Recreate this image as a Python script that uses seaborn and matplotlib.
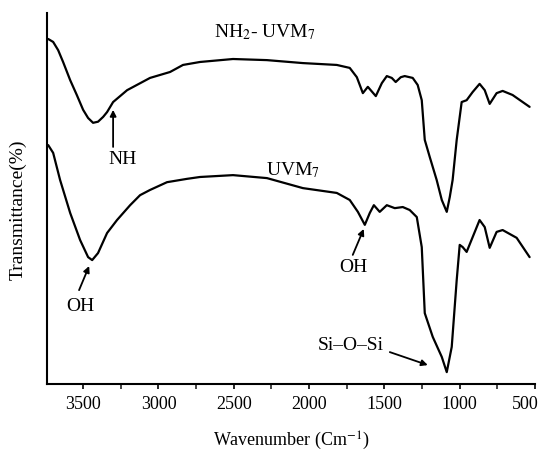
import matplotlib
matplotlib.use("Agg")
import matplotlib.pyplot as plt
import matplotlib.transforms as mtransforms
import seaborn as sns
import pandas as pd
from matplotlib.ticker import MultipleLocator

# ---- data ----
wn_nh2 = [3732, 3699, 3666, 3633, 3586, 3542, 3500, 3467, 3434, 3401, 3367, 3341,
          3301, 3208, 3056, 2923, 2837, 2724, 2505, 2280, 2041, 1816, 1730, 1683,
          1643, 1610, 1557, 1517, 1484, 1451, 1425, 1391, 1365, 1312, 1279, 1252,
          1232, 1199, 1153, 1119, 1086, 1066, 1047, 1020, 987, 954, 914, 868, 834,
          801, 755, 715, 649, 582, 536]
t_nh2 = [93.0, 92.2, 90.0, 86.8, 81.9, 77.9, 73.9, 71.7, 70.4, 70.7, 72.0, 73.3,
         76.0, 79.2, 82.5, 84.1, 86.0, 86.8, 87.6, 87.3, 86.5, 86.0, 85.2, 82.7,
         78.4, 80.1, 77.6, 81.1, 83.0, 82.5, 81.4, 82.7, 83.0, 82.5, 80.6, 76.5,
         65.8, 61.2, 55.0, 49.6, 46.4, 50.4, 55.0, 65.8, 76.0, 76.5, 78.7, 80.9,
         79.2, 75.5, 78.4, 79.0, 77.9, 76.0, 74.7]

wn_uvm = [3732, 3699, 3653, 3586, 3520, 3467, 3440, 3401, 3341, 3275, 3188, 3122,
          3056, 2943, 2810, 2724, 2505, 2280, 2041, 1816, 1730, 1676, 1630, 1597,
          1570, 1531, 1484, 1431, 1378, 1332, 1285, 1252, 1232, 1179, 1119, 1086,
          1053, 1020, 1000, 980, 954, 914, 868, 834, 801, 755, 715, 622, 536]
t_uvm = [64.4, 62.3, 55.0, 46.1, 38.8, 34.2, 33.4, 35.3, 40.7, 44.2, 48.2, 50.9,
         52.3, 54.4, 55.3, 55.8, 56.3, 55.5, 52.8, 51.5, 49.6, 46.4, 42.9, 46.1,
         48.2, 46.4, 48.2, 47.4, 47.7, 46.9, 45.0, 36.9, 19.1, 12.7, 7.3, 3.2,
         10.0, 28.0, 37.5, 36.9, 35.6, 39.6, 44.2, 42.3, 36.7, 41.0, 41.5, 39.4,
         34.2]

xtick_values = [3500, 3000, 2500, 2000, 1500, 1000, 500]
xtick_labels = ["3500", "3000", "2500", "2000", "1500", "1000", "500"]

df_nh2 = pd.DataFrame({"wn": wn_nh2, "t": t_nh2})
df_uvm = pd.DataFrame({"wn": wn_uvm, "t": t_uvm})

# ---- style ----
sns.set_theme(style="ticks")
plt.rcParams["font.family"] = ["Liberation Serif", "DejaVu Serif"]
plt.rcParams["mathtext.fontset"] = "stix"

fig = plt.figure(figsize=(5.45, 4.53), dpi=100)
ax = fig.add_axes([0.0862, 0.1523, 0.8955, 0.819])

sns.lineplot(data=df_nh2, x="wn", y="t", ax=ax, color="black", lw=1.6,
             estimator=None, sort=False)
sns.lineplot(data=df_uvm, x="wn", y="t", ax=ax, color="black", lw=1.6,
             estimator=None, sort=False)

ax.set_xlim(3740, 500)
ax.set_ylim(0, 100)
ax.set_xticks(xtick_values)
ax.set_xticklabels(xtick_labels)
ax.xaxis.set_minor_locator(MultipleLocator(250))
ax.set_yticks([])
ax.tick_params(axis="x", which="major", direction="out", length=3.5, width=1.2,
               labelsize=13, pad=5, colors="black")
ax.tick_params(axis="x", which="minor", direction="out", length=3.5, width=1.2)
for s in ["top", "right"]:
    ax.spines[s].set_visible(False)
for s in ["left", "bottom"]:
    ax.spines[s].set_linewidth(1.5)
    ax.spines[s].set_color("black")

# last tick label sits a little left of its tick, as in the reference
last = ax.get_xticklabels()[-1]
last.set_transform(last.get_transform() +
                   mtransforms.ScaledTranslation(-10 / 100, 0, fig.dpi_scale_trans))

ax.set_xlabel("Wavenumber (Cm$^{-1}$)", fontsize=13, labelpad=12, color="black")
ax.set_ylabel("Transmittance(%)", fontsize=14, color="black")
ax.yaxis.set_label_coords(-0.042, 0.469)

txt = dict(fontsize=14, ha="center", va="center", color="black")
ax.text(2293, 94.9, r"NH$_2$- UVM$_7$", **txt)
ax.text(2108, 57.7, r"UVM$_7$", **txt)

arrow = dict(arrowstyle="-|>", color="black", lw=1.3, mutation_scale=9,
             shrinkA=0, shrinkB=0)
ax.text(3241, 60.4, "NH", **txt)
ax.annotate("", xy=(3301, 73.9), xytext=(3301, 63.9), arrowprops=arrow)
ax.text(3520, 20.8, "OH", **txt)
ax.annotate("", xy=(3460, 31.8), xytext=(3527, 25.3), arrowprops=arrow)
ax.text(1703, 31.3, "OH", **txt)
ax.annotate("", xy=(1637, 41.8), xytext=(1710, 34.8), arrowprops=arrow)
ax.text(1723, 10.5, "Si–O–Si", **txt)
ax.annotate("", xy=(1212, 5.1), xytext=(1464, 8.6), arrowprops=arrow)

fig.savefig("out.png", dpi=100)
